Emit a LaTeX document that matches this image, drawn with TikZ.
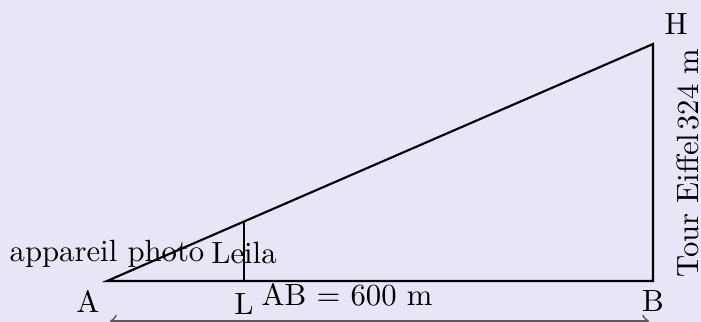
\documentclass[tikz,border=0pt]{standalone}
\definecolor{bgc}{RGB}{230,230,246}
\begin{document}
\begin{tikzpicture}[x=0.3257pt,y=-0.3257pt,
  seg/.style={line width=0.7pt,black},
  lbl/.style={inner sep=0pt,font=\fontsize{10}{12}\selectfont}]
\fill[bgc] (0,0) rectangle (701,322);
\useasboundingbox (0,0) rectangle (701,322);
\coordinate (A) at (107,281);
\coordinate (B) at (653,281);
\coordinate (H) at (653,44);
\coordinate (L) at (244,281);
\coordinate (Lt) at (244,221.5);
\coordinate (DA) at (110,321);
\coordinate (DB) at (649,321);
\draw[seg] (A) -- (B) -- (H) -- cycle;
\draw[seg] (L) -- (Lt);
\draw[gray!70!black,line width=0.6pt,<->] (DA) -- (DB);
\node[lbl] (nA) at (88,302) {A};
\node[lbl] (nL) at (244,304) {L};
\node[lbl] (nB) at (653,301) {B};
\node[lbl] (nH) at (676,24) {H};
\node[lbl,anchor=base] (app) at (107,262) {appareil photo};
\node[lbl,anchor=base] (leila) at (244,264) {Leila};
\node[lbl,anchor=base] (ab) at (347,306) {AB $=$ 600 m};
\node[lbl,rotate=90] (tour) at (688,163) {Tour Eiffel\kern1pt 324 m};
\end{tikzpicture}
\end{document}
